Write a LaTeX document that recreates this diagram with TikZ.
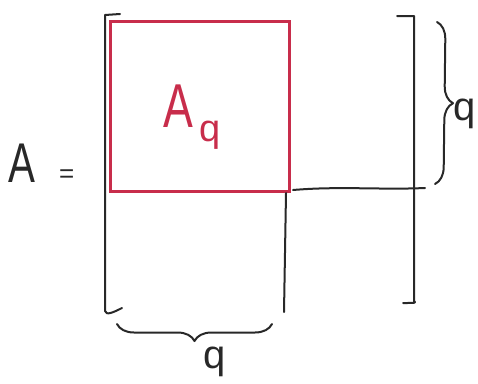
\documentclass[tikz,border=0pt]{standalone}
\usepackage{fontspec}
\setmainfont{Liberation Sans}
\usetikzlibrary{decorations.pathreplacing}
\definecolor{ink}{RGB}{40,40,40}
\definecolor{redink}{RGB}{200,45,75}
\begin{document}
\begin{tikzpicture}[x=1pt,y=-1pt,
  inkline/.style={draw=ink,line width=2pt,line cap=round,line join=round},
  redbox/.style={draw=redink,line width=3pt,minimum width=179pt,minimum height=170pt,inner sep=0pt},
  hbrace/.style={inkline,decorate,decoration={brace,amplitude=17pt,raise=0pt}},
  lbl/.style={text=ink,inner sep=0pt}]
\useasboundingbox (0,0) rectangle (478,383);
% left bracket
\coordinate (LTs) at (120,14);
\coordinate (LT) at (105,15);
\coordinate (LB) at (105,311);
\coordinate (LBs) at (122,308);
\draw[inkline] (LTs) -- (LT) -- (LB) .. controls (106,316) and (114,312) .. (LBs);
% right bracket
\coordinate (RTs) at (397,16);
\coordinate (RT) at (414,16);
\coordinate (RB) at (414,301);
\coordinate (RBs) at (403,303);
\draw[inkline] (RTs) -- (RT) -- (RB) .. controls (416,303) .. (RBs);
% red sub-block
\node[redbox] (Aq) at (199.5,106) {};
\node[text=redink,inner sep=0pt] (Aqlbl) at (192,117)
  {\fontsize{62}{62}\selectfont\scalebox{0.72}[1]{A}\kern6pt\raisebox{-14pt}{\fontsize{38}{38}\selectfont q}};
% partition lines
\coordinate (V1) at (286,193);
\coordinate (V2) at (284,312);
\draw[inkline] (V1) -- (V2);
\coordinate (H1) at (293,190);
\coordinate (H2) at (425,188);
\draw[inkline] (H1) .. controls (340,186) and (380,190) .. (H2);
% braces
\coordinate (BR1) at (437,22);
\coordinate (BR2) at (435,184);
\draw[hbrace] (BR1) -- (BR2);
\node[lbl,font=\fontsize{40}{40}\selectfont] (qr) at (465,114) {q};
\coordinate (BB1) at (272,324);
\coordinate (BB2) at (117,324);
\draw[hbrace] (BB1) -- (BB2);
\node[lbl,font=\fontsize{40}{40}\selectfont] (qb) at (215,362) {q};
% A =
\node[lbl,anchor=west] (Aeq) at (8,163)
  {\fontsize{56}{56}\selectfont\scalebox{0.72}[1]{A}\hspace{24pt}{\fontsize{26}{26}\selectfont =}};
\end{tikzpicture}
\end{document}
